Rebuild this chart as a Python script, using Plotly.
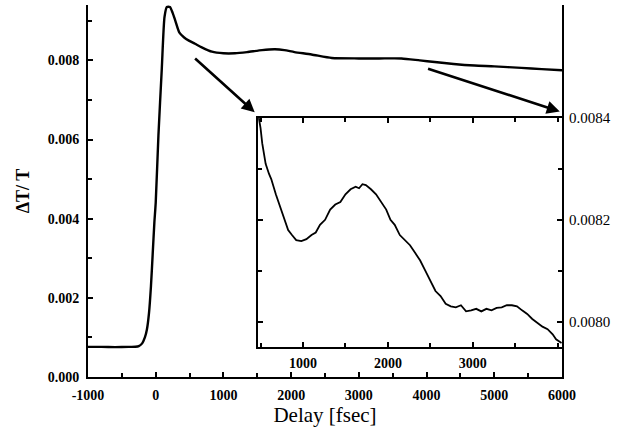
import plotly.graph_objects as go

# Full pump-probe transient
main_delay = [-1000, -800, -600, -400, -300, -250, -200, -160, -130, -100, -70, -45, -20, 0,
              40, 90, 130, 165, 210, 250, 290, 350, 420, 490, 580, 680, 830, 1000, 1170,
              1350, 1570, 1760, 1900, 2050, 2300, 2600, 3000, 3300, 3630, 3900, 4120, 4400,
              4710, 5000, 5400, 5700, 6000]
main_dt = [0.00076, 0.00076, 0.000755, 0.00076, 0.000765, 0.00078, 0.00085, 0.0010, 0.0012,
           0.0016, 0.0023, 0.0031, 0.0039, 0.0044, 0.0061, 0.0078, 0.0091, 0.00935, 0.00935,
           0.0092, 0.0090, 0.0087, 0.00858, 0.0085, 0.00842, 0.00833, 0.00822, 0.00818,
           0.00818, 0.00821, 0.00826, 0.00828, 0.00826, 0.00821, 0.00815, 0.00806, 0.00805,
           0.00805, 0.00805, 0.0080, 0.00796, 0.00791, 0.00787, 0.00785, 0.00781, 0.00778,
           0.00775]

# Expanded view of the oscillatory part
inset_delay = [480, 500, 520, 560, 600, 626, 680, 743, 790, 825, 870, 920, 980, 1040, 1100,
               1150, 1200, 1260, 1320, 1380, 1440, 1500, 1560, 1620, 1660, 1700, 1740, 1800,
               1860, 1920, 1980, 2030, 2080, 2140, 2200, 2260, 2320, 2380, 2440, 2500, 2560,
               2620, 2680, 2740, 2800, 2860, 2920, 2980, 3040, 3100, 3160, 3220, 3280, 3340,
               3400, 3460, 3520, 3580, 3640, 3700, 3760, 3820, 3880, 3940, 3980, 4020, 4045]
inset_dt = [0.00840, 0.00838, 0.00835, 0.00831, 0.00829, 0.00828, 0.00825, 0.00822, 0.00820,
            0.00818, 0.00817, 0.00816, 0.008158, 0.008162, 0.00817, 0.008175, 0.00819,
            0.00820, 0.00822, 0.00823, 0.008235, 0.00825, 0.00826, 0.008265, 0.008262,
            0.00827, 0.008268, 0.00826, 0.00825, 0.008235, 0.00822, 0.00820, 0.00819,
            0.00817, 0.00816, 0.00815, 0.008135, 0.00812, 0.00810, 0.00808, 0.00806,
            0.00805, 0.008035, 0.00803, 0.008028, 0.008032, 0.00802, 0.008022, 0.008025,
            0.00802, 0.008025, 0.008022, 0.008027, 0.008028, 0.008032, 0.008032, 0.00803,
            0.008022, 0.008015, 0.008005, 0.007998, 0.00799, 0.007985, 0.007975, 0.007965,
            0.00796, 0.007958]

# Tick positions and labels
main_xticks = [-1000, 0, 1000, 2000, 3000, 4000, 5000, 6000]
main_xlabels = ["-1000", "0", "1000", "2000", "3000", "4000", "5000", "6000"]
inset_xticks = [1000, 2000, 3000]
inset_yticks = [0.0080, 0.0082, 0.0084]
inset_yminor = [0.0081, 0.0083]

# Pointer arrows: (tail delay, tail value, head delay, head value) in main-axis units
arrow_tail_x = [560, 4000]
arrow_tail_y = [0.00808, 0.00780]
arrow_head_x = [1462, 5967]
arrow_head_y = [0.00669, 0.00671]

W, H = 620, 427
serif = "Liberation Serif"

fig = go.Figure()
fig.add_trace(go.Scatter(x=main_delay, y=main_dt, mode="lines",
                         line=dict(color="black", width=2.4, shape="spline", smoothing=0.6),
                         xaxis="x", yaxis="y", showlegend=False))
fig.add_trace(go.Scatter(x=inset_delay, y=inset_dt, mode="lines",
                         line=dict(color="black", width=1.8), xaxis="x2", yaxis="y2",
                         showlegend=False))

for tx, ty, hx, hy in zip(arrow_tail_x, arrow_tail_y, arrow_head_x, arrow_head_y):
    fig.add_annotation(x=hx, y=hy, ax=tx, ay=ty, xref="x", yref="y", axref="x", ayref="y",
                       showarrow=True, arrowhead=2, arrowsize=1, arrowwidth=2.6,
                       arrowcolor="black", text="")

bold_tick = dict(family=serif, size=14, color="black", weight="bold")

fig.update_layout(
    width=W, height=H,
    margin=dict(l=0, r=0, t=0, b=0),
    paper_bgcolor="white", plot_bgcolor="white",
    xaxis=dict(domain=[88 / W, 562 / W], range=[-1000, 6000],
               tickvals=main_xticks, ticktext=main_xlabels,
               ticks="inside", ticklen=5, tickwidth=2, tickcolor="black",
               minor=dict(ticks="inside", dtick=500, ticklen=4, tickwidth=2, tickcolor="black"),
               showline=True, linewidth=2, linecolor="black", mirror=False, automargin=False,
               showgrid=False, zeroline=False, tickfont=bold_tick, ticklabelstandoff=4,
               title=dict(text="Delay [fsec]", font=dict(family=serif, size=21, color="black"),
                          standoff=2)),
    yaxis=dict(domain=[(H - 377) / H, (H - 5) / H], range=[0, 0.0094], dtick=0.002,
               tickformat=".3f", ticks="inside", ticklen=5, tickwidth=2, tickcolor="black",
               minor=dict(ticks="inside", dtick=0.001, ticklen=4, tickwidth=2, tickcolor="black"),
               showline=True, linewidth=2, linecolor="black", mirror=True, automargin=False,
               showgrid=False, zeroline=False, tickfont=bold_tick, ticklabelstandoff=4,
               title=dict(text="ΔT/ T", font=dict(family=serif, size=18, color="black",
                                                  weight="bold"), standoff=13)),
    xaxis2=dict(domain=[258 / W, 562 / W], range=[470, 4050], anchor="y2",
                tickvals=inset_xticks, ticks="inside", ticklen=5, tickwidth=2,
                tickcolor="black",
                minor=dict(ticks="inside", dtick=500, ticklen=4, tickwidth=2, tickcolor="black"),
                showline=True, linewidth=1.6, linecolor="black", mirror="ticks",
                automargin=False, showgrid=False, zeroline=False, tickfont=bold_tick,
                ticklabelstandoff=2),
    yaxis2=dict(domain=[(H - 347) / H, (H - 118) / H], range=[0.00795, 0.0084], anchor="x2",
                side="right", tickvals=inset_yticks, tickformat=".4f",
                ticks="inside", ticklen=5, tickwidth=2, tickcolor="black",
                minor=dict(ticks="inside", tickvals=inset_yminor, ticklen=4, tickwidth=2,
                           tickcolor="black"),
                showline=True, linewidth=2, linecolor="black", mirror="ticks",
                automargin=False, showgrid=False, zeroline=False,
                tickfont=dict(family=serif, size=15, color="black"), ticklabelstandoff=2),
)

fig.write_html("out.html")
